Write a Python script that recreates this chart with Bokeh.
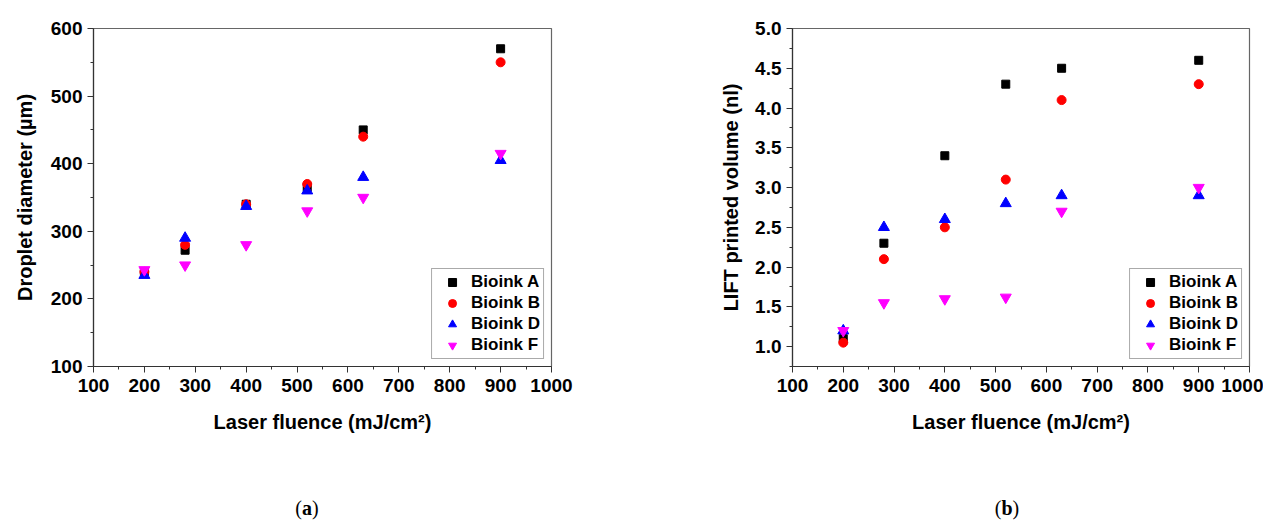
from bokeh.plotting import figure
from bokeh.layouts import row, column
from bokeh.models import Range1d, FixedTicker, PrintfTickFormatter, Div, Spacer
from bokeh.embed import file_html
from bokeh.resources import INLINE

# ---- data ----
fluence = [200, 280, 400, 520, 630, 900]

diam_A = [240, 272, 340, 365, 450, 570]
diam_B = [240, 280, 340, 370, 440, 550]
diam_D = [235, 290, 337, 360, 380, 405]
diam_F = [243, 250, 280, 330, 350, 415]

vol_A = [1.10, 2.30, 3.40, 4.30, 4.50, 4.60]
vol_B = [1.05, 2.10, 2.50, 3.10, 4.10, 4.30]
vol_D = [1.20, 2.50, 2.60, 2.80, 2.90, 2.90]
vol_F = [1.20, 1.55, 1.60, 1.62, 2.70, 3.00]

series_names = ["Bioink A", "Bioink B", "Bioink D", "Bioink F"]

x_ticks = [100, 200, 300, 400, 500, 600, 700, 800, 900, 1000]
x_minor = [150, 250, 350, 450, 550, 650, 750, 850, 950]
ya_ticks = [100, 200, 300, 400, 500, 600]
ya_minor = [150, 250, 350, 450, 550]
yb_ticks = [1.0, 1.5, 2.0, 2.5, 3.0, 3.5, 4.0, 4.5, 5.0]
yb_minor = [0.75, 1.25, 1.75, 2.25, 2.75, 3.25, 3.75, 4.25, 4.75]

AX_FONT = "Liberation Sans"
TICK_SIZE = "19px"
TITLE_SIZE = "20px"

styles = [
    dict(marker="square", color="#000000", size=8),
    dict(marker="circle", color="#ff0000", size=9),
    dict(marker="triangle", color="#0000ff", size=11),
    dict(marker="inverted_triangle", color="#ff00ff", size=11),
]


def make_fig(width, height, mb_left, mb_right, mb_top, mb_bottom,
             y_range, y_ticks, y_minor, y_label, ys, y_fmt, ylab_standoff):
    p = figure(width=width, height=height, output_backend="svg",
               toolbar_location=None, title=None,
               x_range=Range1d(100, 1000), y_range=y_range,
               min_border_left=mb_left, min_border_right=mb_right,
               min_border_top=mb_top, min_border_bottom=mb_bottom)
    p.xgrid.visible = False
    p.ygrid.visible = False
    p.outline_line_color = "#666666"
    p.outline_line_width = 1.2
    p.background_fill_color = "white"
    p.border_fill_color = "white"

    for yv, name, st in zip(ys, series_names, styles):
        p.scatter(fluence, yv, marker=st["marker"], size=st["size"],
                  fill_color=st["color"], line_color=st["color"],
                  legend_label=name)

    p.xaxis.ticker = FixedTicker(ticks=x_ticks, minor_ticks=x_minor)
    p.yaxis.ticker = FixedTicker(ticks=y_ticks, minor_ticks=y_minor)
    if y_fmt:
        p.yaxis.formatter = PrintfTickFormatter(format=y_fmt)

    p.xaxis.axis_label = "Laser fluence (mJ/cm\u00b2)"
    p.yaxis.axis_label = y_label
    for ax in (p.xaxis, p.yaxis):
        ax.axis_line_color = "#333333"
        ax.axis_line_width = 1.2
        ax.major_tick_line_color = "#333333"
        ax.minor_tick_line_color = "#333333"
        ax.major_tick_out = 6
        ax.major_tick_in = 0
        ax.minor_tick_out = 3
        ax.minor_tick_in = 0
        ax.major_label_text_font = AX_FONT
        ax.major_label_text_font_style = "bold"
        ax.major_label_text_font_size = TICK_SIZE
        ax.major_label_text_color = "black"
        ax.axis_label_text_font = AX_FONT
        ax.axis_label_text_font_style = "bold"
        ax.axis_label_text_font_size = TITLE_SIZE
        ax.axis_label_text_color = "black"
    p.xaxis.major_label_standoff = 6
    p.yaxis.major_label_standoff = 5
    p.xaxis.axis_label_standoff = 16
    p.yaxis.axis_label_standoff = ylab_standoff

    lg = p.legend[0]
    lg.location = "bottom_right"
    lg.margin = 7
    lg.padding = 3
    lg.spacing = 1
    lg.glyph_width = 34
    lg.glyph_height = 20
    lg.label_height = 20
    lg.label_standoff = 2
    lg.label_text_font = "Liberation Sans"
    lg.label_text_font_style = "bold"
    lg.label_text_font_size = "17px"
    lg.label_text_color = "black"
    lg.border_line_color = "#555555"
    lg.border_line_width = 1.2
    lg.background_fill_alpha = 1.0
    return p


p1 = make_fig(648, 490, 93, 97, 28, 124,
              Range1d(100, 600), ya_ticks, ya_minor,
              "Droplet diameter (\u00b5m)",
              [diam_A, diam_B, diam_D, diam_F], None, 12)
p2 = make_fig(615, 490, 144, 14, 28, 124,
              Range1d(0.75, 5.0), yb_ticks, yb_minor,
              "LIFT printed volume (nl)",
              [vol_A, vol_B, vol_D, vol_F], "%.1f", 10)

lab_style = {"font-family": "Liberation Serif", "font-size": "20px",
             "text-align": "center", "line-height": "26px", "color": "black",
             "width": "100%"}
div_a = Div(text="(<b>a</b>)", width=604, height=24, styles=lab_style)
gap = Spacer(width=338, height=24)
div_b = Div(text="(<b>b</b>)", width=100, height=24, styles=lab_style)

layout = column(row(p1, p2), row(div_a, gap, div_b))
open("out.html", "w").write(file_html(layout, INLINE))
